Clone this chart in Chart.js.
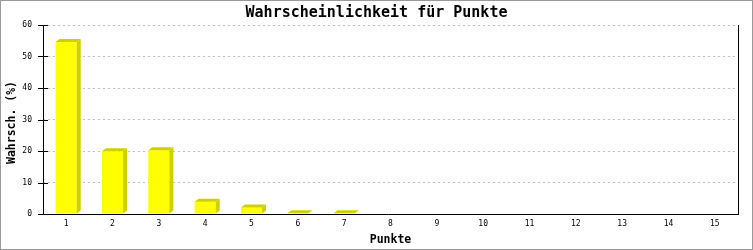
<!DOCTYPE html>
<html>
<head>
<meta charset="utf-8">
<script src="https://cdn.jsdelivr.net/npm/chart.js@4"></script>
<style>
  html, body { margin: 0; padding: 0; background: #fff; }
  #wrap { width: 753px; height: 250px; position: relative; }
</style>
</head>
<body>
<div id="wrap"><canvas id="c" width="753" height="250"></canvas></div>
<script>
const categories = ['1','2','3','4','5','6','7','8','9','10','11','12','13','14','15'];
const probabilities = [54.6, 19.9, 20.2, 3.9, 2.1, 0.2, 0.2, 0, 0, 0, 0, 0, 0, 0, 0];
const yTicks = [0, 10, 20, 30, 40, 50, 60];
const chartTitle = 'Wahrscheinlichkeit für Punkte';
const xTitle = 'Punkte';
const yTitle = 'Wahrsch. (%)';

const MONO = '"DejaVu Sans Mono", "Liberation Mono", monospace';
const DX = 4, DY = 3;
const SHADE = '#d0d000';

const decor = {
  id: 'decor',
  beforeDraw(chart) {
    const ctx = chart.ctx;
    ctx.save();
    ctx.fillStyle = '#fff';
    ctx.fillRect(0, 0, chart.width, chart.height);
    ctx.restore();
  },
  afterDatasetsDraw(chart) {
    const ctx = chart.ctx;
    const meta = chart.getDatasetMeta(0);
    ctx.save();
    ctx.fillStyle = SHADE;
    meta.data.forEach((bar, i) => {
      if (!probabilities[i]) return;
      const p = bar.getProps(['x', 'y', 'base', 'width'], true);
      const l = p.x - p.width / 2, r = p.x + p.width / 2;
      const t = p.y, b = p.base;
      // top face
      ctx.beginPath();
      ctx.moveTo(l, t);
      ctx.lineTo(l + DX, t - DY);
      ctx.lineTo(r + DX, t - DY);
      ctx.lineTo(r, t);
      ctx.closePath();
      ctx.fill();
      // side face
      ctx.beginPath();
      ctx.moveTo(r, t);
      ctx.lineTo(r + DX, t - DY);
      ctx.lineTo(r + DX, b - DY);
      ctx.lineTo(r, b);
      ctx.closePath();
      ctx.fill();
    });
    ctx.restore();
  },
  afterDraw(chart) {
    const ctx = chart.ctx;
    const a = chart.chartArea;
    const ys = chart.scales.y;
    ctx.save();
    // axes lines
    ctx.strokeStyle = '#000';
    ctx.lineWidth = 1;
    ctx.beginPath();
    ctx.moveTo(Math.round(a.left) + 0.5, a.top);
    ctx.lineTo(Math.round(a.left) + 0.5, a.bottom);
    ctx.moveTo(Math.round(a.right) + 0.5, a.top);
    ctx.lineTo(Math.round(a.right) + 0.5, a.bottom + 0.5);
    ctx.moveTo(a.left - 5, Math.round(a.bottom) + 0.5);
    ctx.lineTo(a.right + 1, Math.round(a.bottom) + 0.5);
    yTicks.forEach(v => {
      const y = Math.round(ys.getPixelForValue(v)) + 0.5;
      ctx.moveTo(a.left - 5, y);
      ctx.lineTo(a.left + 5, y);
    });
    ctx.stroke();
    // outer frame
    ctx.strokeStyle = '#999';
    ctx.strokeRect(0.5, 0.5, chart.width - 1, chart.height - 1);
    // titles
    ctx.fillStyle = '#000';
    ctx.textAlign = 'center';
    ctx.textBaseline = 'middle';
    ctx.font = 'bold 15px ' + MONO;
    ctx.fillText(chartTitle, chart.width / 2, 13);
    ctx.font = 'bold 11.5px ' + MONO;
    ctx.fillText(xTitle, (a.left + a.right) / 2, 240);
    ctx.translate(12, (a.top + a.bottom) / 2 + 3);
    ctx.rotate(-Math.PI / 2);
    ctx.fillText(yTitle, 0, 0);
    ctx.restore();
  }
};

new Chart(document.getElementById('c'), {
  type: 'bar',
  data: {
    labels: categories,
    datasets: [{
      data: probabilities,
      backgroundColor: '#ffff00',
      borderWidth: 0,
      categoryPercentage: 1,
      barPercentage: 0.455
    }]
  },
  options: {
    responsive: false,
    animation: false,
    devicePixelRatio: 1,
    layout: { padding: { top: 25, right: 15, left: 0, bottom: 0 } },
    plugins: { legend: { display: false }, tooltip: { enabled: false }, title: { display: false } },
    scales: {
      x: {
        grid: { display: true, drawTicks: false, color: 'transparent' },
        border: { display: false },
        ticks: { color: '#000', font: { family: MONO, size: 8 }, padding: 5, maxRotation: 0, autoSkip: false },
        afterFit(s) { s.height = 36; }
      },
      y: {
        min: 0, max: 60,
        afterBuildTicks(s) { s.ticks = yTicks.map(v => ({ value: v })); },
        grid: {
          drawTicks: false,
          color: ctx => ctx.tick && ctx.tick.value === 0 ? 'transparent' : '#c0c0c0',
          lineWidth: 1
        },
        border: { display: false, dash: [2, 3] },
        ticks: { color: '#000', font: { family: MONO, size: 8 }, padding: 11 },
        afterFit(s) { s.width = 43; }
      }
    }
  },
  plugins: [decor]
});
</script>
</body>
</html>
